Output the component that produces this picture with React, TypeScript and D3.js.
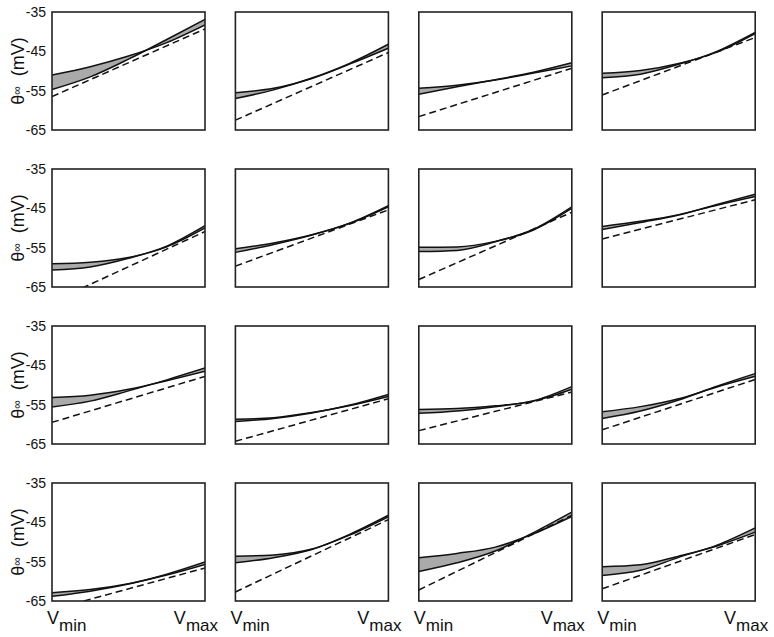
import React, { useEffect, useRef } from 'react'
import * as d3 from 'd3'

// sample positions between Vmin (0) and Vmax (1)
const tGrid = [0, 0.25, 0.5, 0.75, 1]

// upper/lower bound of the shaded band, per panel (row-major)
const upperCurves = [
  [-51.0, -48.9, -46.2, -42.8, -38.3],
  [-55.5, -54.4, -51.9, -48.2, -44.2],
  [-54.4, -53.6, -52.3, -50.5, -48.7],
  [-50.6, -49.9, -48.1, -45.2, -40.5],
  [-59.1, -58.7, -57.5, -54.8, -50.0],
  [-55.3, -53.8, -51.7, -48.8, -44.6],
  [-54.9, -54.8, -53.4, -50.5, -45.0],
  [-49.6, -48.3, -46.6, -44.2, -42.0],
  [-53.2, -52.6, -51.1, -48.9, -46.5],
  [-58.7, -58.3, -57.0, -55.2, -52.9],
  [-56.2, -56.0, -55.3, -54.1, -51.1],
  [-56.8, -55.5, -53.5, -50.5, -47.8],
  [-62.9, -62.1, -60.6, -58.4, -55.7],
  [-53.6, -53.3, -51.8, -48.2, -43.6],
  [-54.0, -52.9, -51.3, -47.9, -43.5],
  [-56.3, -55.8, -53.6, -51.0, -47.5],
]

const lowerCurves = [
  [-54.7, -51.5, -47.0, -42.0, -36.9],
  [-57.0, -54.8, -51.8, -48.0, -43.2],
  [-55.9, -54.0, -52.2, -50.3, -47.9],
  [-51.7, -50.8, -48.3, -45.0, -40.2],
  [-60.7, -59.9, -57.7, -54.6, -49.4],
  [-56.2, -54.2, -51.8, -48.7, -44.3],
  [-56.0, -55.7, -53.5, -50.3, -44.6],
  [-50.4, -48.6, -46.7, -44.0, -41.4],
  [-55.6, -54.1, -51.5, -48.7, -45.7],
  [-59.3, -58.5, -57.1, -55.1, -52.4],
  [-57.2, -56.6, -55.5, -54.0, -50.4],
  [-58.5, -56.6, -53.8, -50.3, -47.1],
  [-63.8, -62.5, -60.7, -58.2, -55.1],
  [-55.3, -54.0, -51.9, -48.0, -43.2],
  [-57.5, -55.3, -52.3, -47.6, -42.4],
  [-58.5, -57.2, -53.9, -50.8, -46.4],
]

// dashed reference line: value at Vmin, value at Vmax
const dashedLines = [
  [-56.5, -39.3],
  [-62.5, -45.3],
  [-61.6, -49.3],
  [-56.1, -41.5],
  [-68.8, -50.9],
  [-59.7, -45.4],
  [-63.1, -46.0],
  [-52.8, -42.8],
  [-59.5, -47.8],
  [-64.3, -53.5],
  [-61.6, -51.8],
  [-61.4, -48.6],
  [-67.2, -56.6],
  [-62.7, -44.3],
  [-62.2, -43.2],
  [-61.9, -48.1],
]

const yTicks = [-35, -45, -55, -65]
const xLabels = ['min', 'max']

function App() {
  const svgRef = useRef(null)

  useEffect(() => {
    const svg = d3.select(svgRef.current)
    svg.selectAll('*').remove()

    const width = 774, height = 637
    const left0 = 52, top0 = 12
    const stepX = 183.4, stepY = 157
    const w = 153, h = 118
    const font = 'Liberation Sans, Arial, Helvetica, sans-serif'

    svg.attr('width', width).attr('height', height)

    const x = d3.scaleLinear().domain([0, 1]).range([0, w])
    const y = d3.scaleLinear().domain([-65, -35]).range([h, 0])

    const band = d3.area()
      .x((d) => x(d[0]))
      .y0((d) => y(d[1]))
      .y1((d) => y(d[2]))
      .curve(d3.curveMonotoneX)

    const curve = d3.line()
      .x((d) => x(d[0]))
      .y((d) => y(d[1]))
      .curve(d3.curveMonotoneX)

    const straight = d3.line()
      .x((d) => x(d[0]))
      .y((d) => y(d[1]))

    const defs = svg.append('defs')
    defs.append('clipPath').attr('id', 'panel-clip')
      .append('rect').attr('width', w).attr('height', h)

    for (let i = 0; i < 16; i++) {
      const row = Math.floor(i / 4), col = i % 4
      const g = svg.append('g')
        .attr('transform', `translate(${left0 + col * stepX},${top0 + row * stepY})`)

      const up = upperCurves[i], lo = lowerCurves[i]
      const bandData = tGrid.map((t, k) => [t, up[k], lo[k]])

      const inner = g.append('g').attr('clip-path', 'url(#panel-clip)')

      inner.append('path')
        .attr('d', band(bandData))
        .attr('fill', '#aaaaaa')
        .attr('stroke', 'none')

      inner.append('path')
        .attr('d', straight([[0, dashedLines[i][0]], [1, dashedLines[i][1]]]))
        .attr('fill', 'none')
        .attr('stroke', '#111')
        .attr('stroke-width', 1.5)
        .attr('stroke-dasharray', '7,4')

      ;[up, lo].forEach((vals) => {
        inner.append('path')
          .attr('d', curve(tGrid.map((t, k) => [t, vals[k]])))
          .attr('fill', 'none')
          .attr('stroke', '#111')
          .attr('stroke-width', 1.5)
      })

      g.append('rect')
        .attr('width', w)
        .attr('height', h)
        .attr('fill', 'none')
        .attr('stroke', '#222')
        .attr('stroke-width', 1.6)

      if (col === 0) {
        yTicks.forEach((v) => {
          g.append('text')
            .attr('x', -6)
            .attr('y', y(v))
            .attr('dy', '0.35em')
            .attr('text-anchor', 'end')
            .attr('font-family', font)
            .attr('font-size', 14)
            .attr('fill', '#111')
            .text(v)
        })

        const lab = g.append('text')
          .attr('transform', `translate(-28,${h / 2}) rotate(-90)`)
          .attr('text-anchor', 'middle')
          .attr('font-family', font)
          .attr('font-size', 18)
          .attr('fill', '#111')
        lab.append('tspan').text('θ')
        lab.append('tspan').attr('font-size', 12).attr('dy', -3).text('∞')
        lab.append('tspan').attr('dy', 3).text('\u00a0 (mV)')
      }

      if (row === 3) {
        xLabels.forEach((sub, k) => {
          const t = g.append('text')
            .attr('x', k === 0 ? -5 : w + 13)
            .attr('y', h + 23)
            .attr('text-anchor', k === 0 ? 'start' : 'end')
            .attr('font-family', font)
            .attr('font-size', 18)
            .attr('fill', '#111')
          t.append('tspan').text('V')
          t.append('tspan').attr('dy', 7).attr('font-size', 17).text(sub)
        })
      }
    }
  }, [])

  return (
    <svg ref={svgRef} style={{ position: 'absolute', left: 0, top: 0, background: '#fff' }} />
  )
}

export default App
